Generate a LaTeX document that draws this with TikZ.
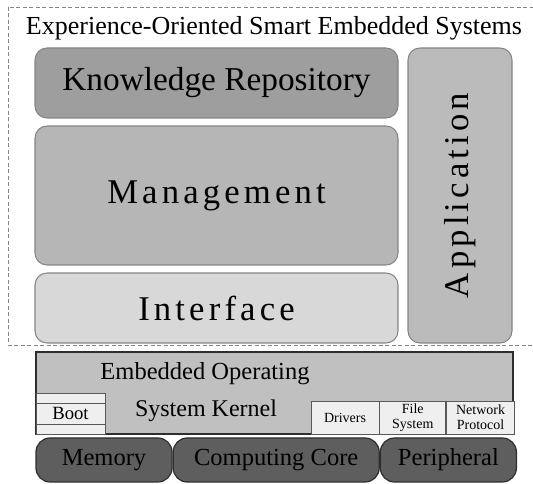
\documentclass[tikz,border=0pt]{standalone}
\usepackage{fontspec}
\setmainfont{Liberation Serif}
\usetikzlibrary{positioning}

\newdimen\unitpx
\unitpx=0.75pt
\newcommand{\fsz}[2]{\fontsize{#1}{#2}\selectfont}

\definecolor{knowgray}{HTML}{9E9E9E}
\definecolor{mangray}{HTML}{B6B6B6}
\definecolor{intgray}{HTML}{D8D8D8}
\definecolor{appgray}{HTML}{BBBBBB}
\definecolor{edgegray}{HTML}{858585}
\definecolor{kerngray}{HTML}{C0C0C0}
\definecolor{modgray}{HTML}{EFEFEF}
\definecolor{hwgray}{HTML}{5E5E5E}
\definecolor{darkedge}{HTML}{2E2E2E}

\begin{document}
\begin{tikzpicture}[x=0.75pt, y=-0.75pt,
    layer/.style={draw=edgegray, rounded corners=12\unitpx, inner sep=0pt, line width=0.8pt},
    spaced/.style={font=\fsz{26}{30}\addfontfeature{LetterSpace=12}},
    kernbox/.style={draw=darkedge, fill=kerngray, inner sep=0pt, line width=1.1pt},
    modbox/.style={draw=darkedge!80, fill=modgray, inner sep=0pt, line width=0.6pt, align=center},
    hwbox/.style={draw=darkedge, fill=hwgray, rounded corners=14\unitpx, inner sep=0pt, line width=0.9pt,
        minimum height=44\unitpx, font=\fsz{18.4}{22}}
]
\clip (0,0) rectangle (533,484);
% outer frame
\draw[edgegray, dash pattern=on 4\unitpx off 2.5\unitpx, line width=0.6pt] (8,7) rectangle (560,345);
\node[font=\fsz{19.5}{23}] (title) at (274,28) {Experience-Oriented Smart Embedded Systems};

% upper layers
\node[layer, fill=knowgray, minimum width=363\unitpx, minimum height=70\unitpx, font=\fsz{25}{30}] (know) at (216.5,83) {Knowledge Repository};
\node[layer, fill=mangray, minimum width=363\unitpx, minimum height=139\unitpx, spaced] (manage) at (216.5,195.5) {Management};
\node[layer, fill=intgray, minimum width=363\unitpx, minimum height=70\unitpx, spaced] (iface) at (216.5,308) {Interface};
\node[layer, fill=appgray, rotate=90, minimum width=295\unitpx, minimum height=104\unitpx, spaced] (app) at (460,195.5) {Application};

% kernel
\node[kernbox, minimum width=477\unitpx, minimum height=82\unitpx] (kernel) at (274.5,393) {};
\node[font=\fsz{18.4}{22}] (embop) at (205,374) {Embedded Operating};
\node[font=\fsz{18}{22}] (syskern) at (206,411) {System Kernel};

\draw[modbox] (36,393) rectangle (105,403);
\draw[modbox] (36,424) rectangle (105,434);
\node[modbox, minimum width=69\unitpx, minimum height=21\unitpx, font=\fsz{14}{16}] (boot) at (70.5,413.5) {Boot};

\node[modbox, minimum width=68\unitpx, minimum height=33\unitpx, font=\fsz{10.5}{11}] (drivers) at (345,417.5) {Drivers};
\node[modbox, minimum width=66\unitpx, minimum height=33\unitpx, font=\fsz{10.5}{11}, right=0pt of drivers] (filesys) {File\\System};
\node[modbox, minimum width=68\unitpx, minimum height=33\unitpx, font=\fsz{10.5}{11}, right=0pt of filesys] (netproto) {Network\\Protocol};

% hardware
\node[hwbox, minimum width=136\unitpx] (memory) at (104,460) {Memory};
\node[hwbox, minimum width=206\unitpx, right=0pt of memory] (core) {Computing Core};
\node[hwbox, minimum width=136\unitpx, right=0pt of core] (periph) {Peripheral};
\end{tikzpicture}
\end{document}
